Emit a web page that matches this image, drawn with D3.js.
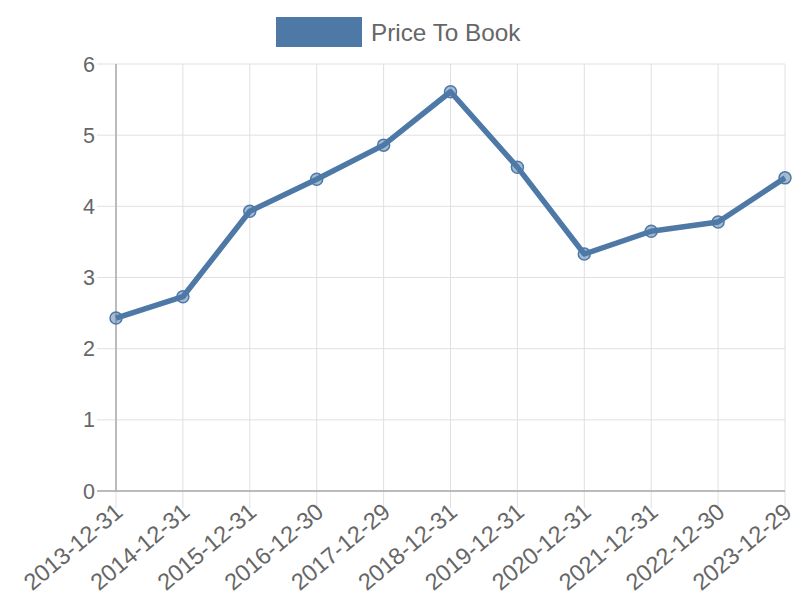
<!DOCTYPE html>
<html><head><meta charset="utf-8">
<script src="https://cdn.jsdelivr.net/npm/d3@7"></script>
<style>body{margin:0;background:#fff;} text{font-family:"Liberation Sans",Arial,sans-serif;fill:#666;}</style>
</head><body>
<svg id="c" width="800" height="600"></svg>
<script>
const categories = ["2013-12-31","2014-12-31","2015-12-31","2016-12-30","2017-12-29","2018-12-31","2019-12-31","2020-12-31","2021-12-31","2022-12-30","2023-12-29"];
const values = [2.43,2.73,3.93,4.38,4.86,5.61,4.55,3.33,3.65,3.78,4.40];
const yTicks = [0,1,2,3,4,5,6];
const seriesName = "Price To Book";
const color = "#4e79a7";

const svg = d3.select("#c");
const L = 116, R = 785, T = 64, B = 491;
const x = d3.scalePoint().domain(categories).range([L, R]);
const y = d3.scaleLinear().domain([0, 6]).range([B, T]);

// grid
svg.append("g").selectAll("line").data(yTicks).join("line")
  .attr("x1", L - 19).attr("x2", R).attr("y1", d => y(d)).attr("y2", d => y(d))
  .attr("stroke", "#e0e0e0").attr("stroke-width", 1);
svg.append("g").selectAll("line").data(categories).join("line")
  .attr("x1", d => x(d)).attr("x2", d => x(d)).attr("y1", T).attr("y2", B + 17)
  .attr("stroke", "#e0e0e0").attr("stroke-width", 1);
// axes lines
svg.append("line").attr("x1", L).attr("x2", L).attr("y1", T).attr("y2", B).attr("stroke", "#aaa").attr("stroke-width", 1.5);
svg.append("line").attr("x1", L - 19).attr("x2", R).attr("y1", B).attr("y2", B).attr("stroke", "#aaa").attr("stroke-width", 1.5);

// y labels
svg.append("g").selectAll("text").data(yTicks).join("text")
  .attr("x", L - 21).attr("y", d => y(d)).attr("dy", "0.35em")
  .attr("text-anchor", "end").attr("font-size", 21.5).text(d => d);
// x labels
svg.append("g").selectAll("text").data(categories).join("text")
  .attr("transform", d => `translate(${x(d) + 3},${B + 17}) rotate(-40)`)
  .attr("text-anchor", "end").attr("dy", "0.35em").attr("font-size", 23.5).text(d => d);

// line
svg.append("path").datum(values)
  .attr("fill", "none").attr("stroke", color).attr("stroke-width", 5.5).attr("stroke-linejoin", "round")
  .attr("d", d3.line().x((d, i) => x(categories[i])).y(d => y(d)));
svg.append("g").selectAll("circle").data(values).join("circle")
  .attr("cx", (d, i) => x(categories[i])).attr("cy", d => y(d)).attr("r", 6)
  .attr("fill", "rgba(78,121,167,0.5)").attr("stroke", color).attr("stroke-width", 1.5);

// legend
svg.append("rect").attr("x", 276).attr("y", 17).attr("width", 86).attr("height", 30).attr("fill", color);
svg.append("text").attr("x", 371).attr("y", 32).attr("dy", "0.35em").attr("font-size", 24.3).text(seriesName);
</script>
</body></html>
